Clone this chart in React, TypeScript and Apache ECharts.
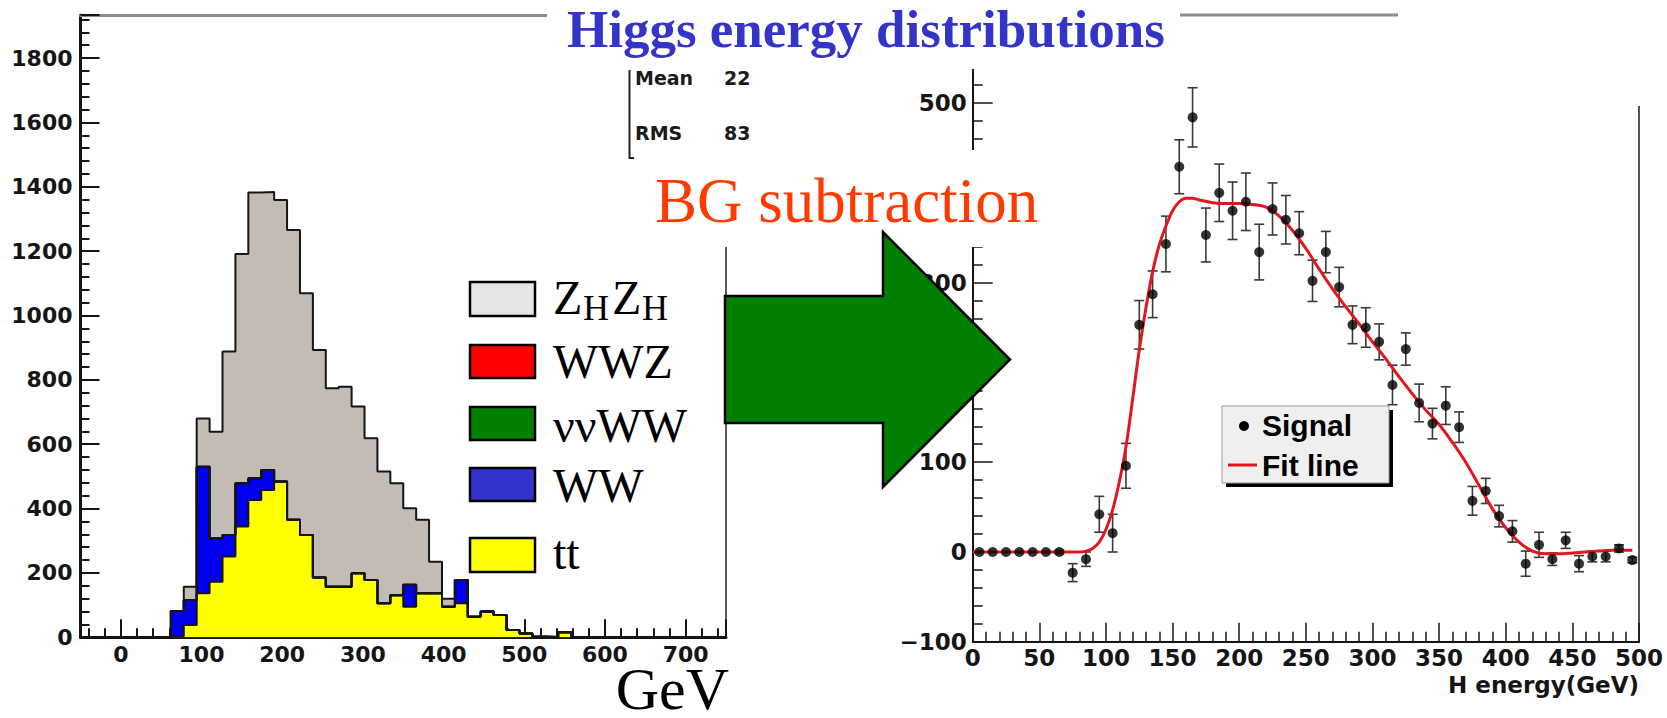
import React, { useEffect, useRef } from "react";
import * as echarts from "echarts";

// ---------- Left panel: stacked background histograms (16 GeV bins starting at -50 GeV) ----------
const histStart = -50;
const histBinWidth = 16;
const ttCounts = [0, 0, 0, 0, 0, 0, 0, 3, 38, 137, 173, 251, 344, 427, 458, 484, 365, 318, 186, 157, 157, 199, 178, 106, 131, 95, 137, 137, 95, 106, 64, 80, 69, 23, 12, 2, 1, 16, 0, 0, 0, 0, 0, 0, 0, 0, 0, 0, 0, 0];
const wwCounts = [0, 0, 0, 0, 0, 0, 0, 79, 78, 393, 135, 67, 135, 67, 62, 0, 0, 0, 0, 0, 0, 0, 0, 0, 0, 68, 0, 0, 0, 72, 0, 0, 0, 0, 0, 0, 0, 0, 0, 0, 0, 0, 0, 0, 0, 0, 0, 0, 0, 0];
const nnwwCounts = [0, 0, 0, 0, 0, 0, 0, 0, 0, 0, 0, 0, 0, 0, 0, 0, 0, 0, 0, 0, 0, 0, 0, 0, 0, 0, 0, 0, 0, 0, 0, 0, 0, 0, 0, 0, 0, 0, 0, 0, 0, 0, 0, 0, 0, 0, 0, 0, 0, 0];
const wwzCounts = [0, 0, 0, 0, 0, 0, 0, 0, 0, 0, 0, 0, 0, 0, 0, 0, 0, 0, 0, 0, 0, 0, 0, 0, 0, 0, 0, 0, 0, 0, 0, 0, 0, 0, 0, 0, 0, 0, 0, 0, 0, 0, 0, 0, 0, 0, 0, 0, 0, 0];
const zhzhCounts = [0, 0, 0, 0, 0, 0, 0, 0, 41, 150, 331, 570, 712, 888, 864, 875, 901, 751, 707, 617, 622, 518, 441, 409, 348, 238, 228, 98, 25, 0, 0, 0, 0, 0, 0, 0, 0, 0, 0, 0, 0, 0, 0, 0, 0, 0, 0, 0, 0, 0];
const leftLegendNames = ["ZHZH", "WWZ", "ννWW", "WW", "tt"];
const statsLabels = ["Mean", "RMS"];
const statsValues = ["22", "83"];

// ---------- Right panel: background-subtracted signal ----------
const signalCenters = [5, 15, 25, 35, 45, 55, 65, 75, 85, 95, 105, 115, 125, 135, 145, 155, 165, 175, 185, 195, 205, 215, 225, 235, 245, 255, 265, 275, 285, 295, 305, 315, 325, 335, 345, 355, 365, 375, 385, 395, 405, 415, 425, 435, 445, 455, 465, 475, 485, 495];
const signalValues = [0, 0, 0, 0, 0, 0, 0, -23, -8, 42, 21, 96, 253, 287, 343, 429, 484, 353, 400, 380, 390, 334, 382, 370, 355, 302, 334, 295, 253, 250, 234, 186, 226, 166, 143, 163, 139, 57, 68, 40, 23, -13, 8, -8, 13, -13, -5, -5, 4, -9];
const signalErrors = [0, 0, 0, 0, 0, 0, 2, 10, 8, 20, 21, 25, 27, 26, 31, 30, 33, 30, 32, 32, 32, 31, 29, 27, 24, 23, 23, 22, 21, 22, 20, 22, 18, 21, 17, 21, 17, 16, 14, 12, 12, 14, 14, 7, 9, 9, 6, 6, 4, 3];
const fitEnergy = [0, 10, 20, 30, 40, 50, 60, 70, 80, 85, 90, 95, 100, 105, 110, 115, 120, 125, 130, 135, 140, 145, 150, 155, 160, 165, 170, 180, 190, 200, 210, 220, 230, 240, 250, 260, 270, 280, 290, 300, 310, 320, 330, 340, 350, 360, 370, 380, 390, 400, 410, 420, 430, 440, 450, 460, 470, 480, 490, 495];
const fitValues = [0, 0, 0, 0, 0, 0, 0, 0, 0, 1, 4, 11, 25, 47, 78, 117, 170, 225, 272, 312, 342, 363, 380, 390, 394, 394, 392, 389, 388, 388, 387, 384, 374, 358, 338, 315, 293, 273, 254, 234, 215, 195, 176, 158, 142, 122, 100, 74, 48, 27, 11, 1, -2, -2, -1, 0, 1, 2, 2, 2];
const hiddenRightLabels = [200, 400, 600]; // covered by the arrow / text boxes in the slide

const SERIF = "Liberation Serif";
const SANS = "DejaVu Sans";

export default function App() {
  const ref = useRef<HTMLDivElement>(null);

  useEffect(() => {
    if (!ref.current) return;
    const chart = echarts.init(ref.current, undefined, { renderer: "svg" });

    const edges = ttCounts.map((_, i) => histStart + i * histBinWidth);
    edges.push(histStart + ttCounts.length * histBinWidth);
    const stepData = (vals: number[]) => edges.map((e, i) => [e, i < vals.length ? vals[i] : 0]);

    // stack order bottom -> top (cumulative sums computed here)
    const comps = [
      { name: "tt", vals: ttCounts, color: "#ffff00", fill: true },
      { name: "WW", vals: wwCounts, color: "#0000ee", fill: true },
      { name: "ννWW", vals: nnwwCounts, color: "#008000", fill: false },
      { name: "WWZ", vals: wwzCounts, color: "#ff0000", fill: false },
      { name: "ZHZH", vals: zhzhCounts, color: "#c3bcb5", fill: true },
    ];
    let running = ttCounts.map(() => 0);
    const cum = comps.map((c) => {
      running = running.map((r, i) => r + c.vals[i]);
      return { ...c, top: running.slice() };
    });

    const histSeries: any[] = [];
    [...cum].reverse().forEach((c) => {
      if (!c.fill) return;
      histSeries.push({
        type: "line", name: c.name + " fill", xAxisIndex: 0, yAxisIndex: 0, step: "end",
        data: stepData(c.top), symbol: "none", silent: true,
        lineStyle: { width: 0 }, areaStyle: { color: c.color, opacity: 1, origin: "start" }, z: 2,
      });
    });
    cum.forEach((c) => {
      histSeries.push({
        type: "line", name: c.name, xAxisIndex: 0, yAxisIndex: 0, step: "end",
        data: stepData(c.top), symbol: "none", silent: true,
        lineStyle: { color: "#151515", width: 2 }, z: 3,
      });
    });

    const errData = signalCenters
      .map((x, i) => [x, signalValues[i] - signalErrors[i], signalValues[i] + signalErrors[i]])
      .filter((d) => d[2] > d[1]);

    const labelStyle = (size: number) => ({ fontFamily: SANS, fontWeight: "bold" as const, fontSize: size, color: "#151515" });

    const legendColors = ["#e6e6e6", "#ff0000", "#008000", "#3333cc", "#ffff00"];
    const legendRows = [
      { top: 282, h: 34, mid: 297 },
      { top: 345, h: 33, mid: 361 },
      { top: 407, h: 33, mid: 425.5 },
      { top: 468, h: 33, mid: 485.5 },
      { top: 538, h: 34, mid: 552 },
    ];
    const legendEls: any[] = [];
    leftLegendNames.forEach((nm, i) => {
      const r = legendRows[i];
      legendEls.push({
        type: "rect", z: 100, shape: { x: 470, y: r.top, width: 65, height: r.h },
        style: { fill: legendColors[i], stroke: "#000", lineWidth: 2.5 },
      });
      if (nm === "ZHZH") {
        const parts = [
          { t: "Z", x: 553, big: true },
          { t: "H", x: 583, big: false },
          { t: "Z", x: 612, big: true },
          { t: "H", x: 642, big: false },
        ];
        parts.forEach((p) => {
          legendEls.push({
            type: "text", z: 101, x: p.x, y: p.big ? r.mid : r.mid + 11,
            style: { text: p.t, fontFamily: SERIF, fontSize: p.big ? 48 : 36, fill: "#000", align: "left", verticalAlign: "middle" },
          });
        });
      } else {
        legendEls.push({
          type: "text", z: 101, x: 553, y: r.mid,
          style: { text: nm, fontFamily: SERIF, fontSize: 48, fill: "#000", align: "left", verticalAlign: "middle" },
        });
      }
    });

    const option: any = {
      animation: false,
      backgroundColor: "#ffffff",
      textStyle: { fontFamily: SANS },
      grid: [
        { left: 80.5, top: 15, width: 645.5, height: 622.3, outerBoundsMode: "none", containLabel: false },
        { left: 972.7, top: 13.2, width: 666.3, height: 628.6, outerBoundsMode: "none", containLabel: false },
      ],
      xAxis: [
        {
          gridIndex: 0, type: "value", min: -50, max: 750, splitNumber: 8, minInterval: 100, maxInterval: 100,
          axisLine: { show: true, onZero: false, lineStyle: { color: "#151515", width: 3 } },
          axisTick: { show: true, inside: true, length: 18, lineStyle: { color: "#151515", width: 2 } },
          minorTick: { show: true, splitNumber: 5, length: 9, lineStyle: { color: "#151515", width: 2 } },
          axisLabel: { ...labelStyle(22), margin: 6, formatter: (v: number) => (v % 100 === 0 ? String(v) : "") },
          splitLine: { show: false },
        },
        {
          gridIndex: 0, type: "value", position: "top", min: -50, max: 750,
          axisLine: { show: true, onZero: false, lineStyle: { color: "#8c8c8c", width: 3 } },
          axisTick: { show: false }, axisLabel: { show: false }, splitLine: { show: false },
        },
        {
          gridIndex: 1, type: "value", min: 0, max: 500, interval: 50,
          axisLine: { show: true, onZero: false, lineStyle: { color: "#151515", width: 2 } },
          axisTick: { show: true, inside: true, length: 19, lineStyle: { color: "#151515", width: 1.5 } },
          minorTick: { show: true, splitNumber: 5, length: 10, lineStyle: { color: "#151515", width: 1.5 } },
          axisLabel: { ...labelStyle(23), margin: 5 },
          splitLine: { show: false },
          name: "H energy(GeV)", nameLocation: "end", nameGap: 0,
          nameTextStyle: { ...labelStyle(23), align: "right", verticalAlign: "top", padding: [32, 0, 0, 0] },
        },
      ],
      yAxis: [
        {
          gridIndex: 0, type: "value", min: 0, max: 1934, interval: 200,
          axisLine: { show: true, onZero: false, lineStyle: { color: "#151515", width: 3 } },
          axisTick: { show: true, inside: true, length: 19, lineStyle: { color: "#151515", width: 2 } },
          minorTick: { show: true, splitNumber: 5, length: 9, lineStyle: { color: "#151515", width: 2 } },
          axisLabel: { ...labelStyle(22), margin: 8, formatter: (v: number) => (v % 200 === 0 ? String(v) : "") },
          splitLine: { show: false },
        },
        {
          gridIndex: 0, type: "value", position: "right", min: 0, max: 1934,
          axisLine: { show: true, onZero: false, lineStyle: { color: "#5a5a5a", width: 2 } },
          axisTick: { show: false }, axisLabel: { show: false }, splitLine: { show: false },
        },
        {
          gridIndex: 1, type: "value", min: -100, max: 600, interval: 100,
          axisLine: { show: true, onZero: false, lineStyle: { color: "#151515", width: 2 } },
          axisTick: { show: true, inside: true, length: 20, lineStyle: { color: "#151515", width: 1.5 } },
          minorTick: { show: true, splitNumber: 5, length: 10, lineStyle: { color: "#151515", width: 1.5 } },
          axisLabel: {
            ...labelStyle(23), margin: 6,
            formatter: (v: number) => (hiddenRightLabels.indexOf(v) >= 0 ? "" : String(v).replace("-", "\u2212")),
          },
          splitLine: { show: false },
        },
        {
          gridIndex: 1, type: "value", position: "right", min: -100, max: 600,
          axisLine: { show: true, onZero: false, lineStyle: { color: "#555", width: 2 } },
          axisTick: { show: false }, axisLabel: { show: false }, splitLine: { show: false },
        },
      ],
      series: [
        ...histSeries,
        {
          type: "custom", name: "Signal errors", xAxisIndex: 2, yAxisIndex: 2, silent: true, z: 4,
          data: errData, encode: { x: 0, y: [1, 2] },
          renderItem: (params: any, api: any) => {
            const x = api.value(0);
            const lo = api.coord([x, api.value(1)]);
            const hi = api.coord([x, api.value(2)]);
            const hw = 5;
            const st = { stroke: "#3a3a3a", lineWidth: 1.6 };
            return {
              type: "group",
              children: [
                { type: "line", shape: { x1: lo[0], y1: lo[1], x2: hi[0], y2: hi[1] }, style: st },
                { type: "line", shape: { x1: lo[0] - hw, y1: lo[1], x2: lo[0] + hw, y2: lo[1] }, style: st },
                { type: "line", shape: { x1: hi[0] - hw, y1: hi[1], x2: hi[0] + hw, y2: hi[1] }, style: st },
              ],
            };
          },
        },
        {
          type: "line", name: "Fit line", xAxisIndex: 2, yAxisIndex: 2, smooth: 0.35, symbol: "none", z: 5,
          data: fitEnergy.map((x, i) => [x, fitValues[i]]),
          lineStyle: { color: "#e3161e", width: 3 },
        },
        {
          type: "scatter", name: "Signal", xAxisIndex: 2, yAxisIndex: 2, symbol: "circle", symbolSize: 10, z: 6,
          data: signalCenters.map((x, i) => [x, signalValues[i]]),
          itemStyle: { color: "#000" },
        },
      ],
      graphic: {
        elements: [
          // white cover boxes of the slide collage
          { type: "rect", z: 90, shape: { x: 547, y: 0, width: 633, height: 69 }, style: { fill: "#fff" } },
          { type: "rect", z: 90, shape: { x: 629, y: 69, width: 135, height: 89 }, style: { fill: "#fff" } },
          { type: "rect", z: 90, shape: { x: 636, y: 150, width: 364, height: 97 }, style: { fill: "#fff" } },
          { type: "rect", z: 90, shape: { x: 1625, y: 0, width: 30, height: 106 }, style: { fill: "#fff" } },
          { type: "line", z: 91, shape: { x1: 1180, y1: 15, x2: 1398, y2: 15 }, style: { stroke: "#8c8c8c", lineWidth: 3 } },
          // stats box
          { type: "polyline", z: 92, shape: { points: [[629.5, 70], [629.5, 158], [634, 158]] }, style: { stroke: "#222", lineWidth: 2, fill: null } },
          { type: "text", z: 93, x: 635, y: 77.5, style: { text: statsLabels[0], fontFamily: SANS, fontWeight: "bold", fontSize: 19, fill: "#1a1a1a", verticalAlign: "middle" } },
          { type: "text", z: 93, x: 724, y: 77.5, style: { text: statsValues[0], fontFamily: SANS, fontWeight: "bold", fontSize: 19, fill: "#1a1a1a", verticalAlign: "middle" } },
          { type: "text", z: 93, x: 635, y: 133, style: { text: statsLabels[1], fontFamily: SANS, fontWeight: "bold", fontSize: 19, fill: "#1a1a1a", verticalAlign: "middle" } },
          { type: "text", z: 93, x: 724, y: 133, style: { text: statsValues[1], fontFamily: SANS, fontWeight: "bold", fontSize: 19, fill: "#1a1a1a", verticalAlign: "middle" } },
          // titles
          { type: "text", z: 95, x: 567, y: 28.5, style: { text: "Higgs energy distributions", fontFamily: SERIF, fontWeight: "bold", fontSize: 53, fill: "#3434c8", align: "left", verticalAlign: "middle" } },
          { type: "text", z: 95, x: 655, y: 200.7, style: { text: "BG subtraction", fontFamily: SERIF, fontSize: 63, fill: "#ff3a00", align: "left", verticalAlign: "middle" } },
          // left x-axis unit
          { type: "text", z: 95, x: 729, y: 689, style: { text: "GeV", fontFamily: SERIF, fontSize: 60, fill: "#000", align: "right", verticalAlign: "middle" } },
          // arrow
          {
            type: "polygon", z: 96,
            shape: { points: [[725, 296], [883, 296], [883, 232], [1010, 359.5], [883, 487], [883, 423], [725, 423]] },
            style: { fill: "#007f00", stroke: "#000", lineWidth: 2.5 },
          },
          // left legend
          ...legendEls,
          // right legend
          { type: "rect", z: 97, shape: { x: 1226, y: 410, width: 167, height: 77 }, style: { fill: "#000" } },
          { type: "rect", z: 98, shape: { x: 1222, y: 406, width: 167, height: 77 }, style: { fill: "#efefef", stroke: "#9a9a9a", lineWidth: 1 } },
          { type: "circle", z: 99, shape: { cx: 1244, cy: 426, r: 5 }, style: { fill: "#000" } },
          { type: "text", z: 99, x: 1262, y: 425, style: { text: "Signal", fontFamily: "Liberation Sans", fontWeight: "bold", fontSize: 30, fill: "#000", verticalAlign: "middle" } },
          { type: "line", z: 99, shape: { x1: 1228, y1: 465, x2: 1257, y2: 465 }, style: { stroke: "#e3161e", lineWidth: 3 } },
          { type: "text", z: 99, x: 1262, y: 465, style: { text: "Fit line", fontFamily: "Liberation Sans", fontWeight: "bold", fontSize: 30, fill: "#000", verticalAlign: "middle" } },
        ],
      },
    };

    chart.setOption(option);
    return () => chart.dispose();
  }, []);

  return (
    <div
      ref={ref}
      style={{ position: "fixed", left: 0, top: 0, width: 1667, height: 718, background: "#fff" }}
    />
  );
}
